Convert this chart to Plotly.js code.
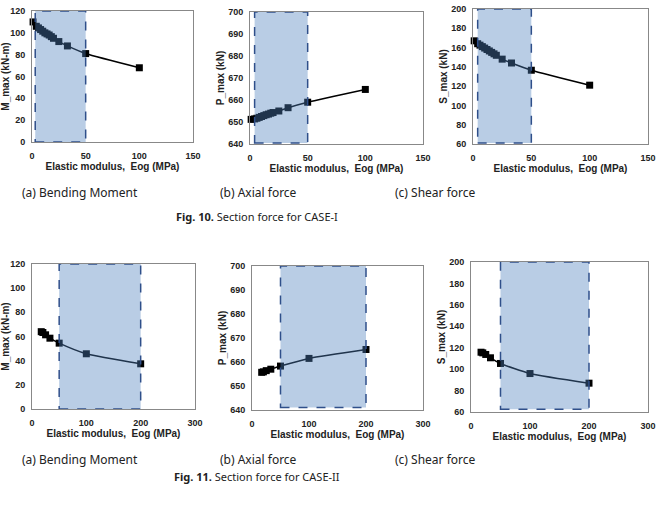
<!DOCTYPE html>
<html>
<head>
<meta charset="utf-8">
<script src="https://cdn.plot.ly/plotly-3.0.1.min.js"></script>
<style>html,body{margin:0;padding:0;background:#fff;}#chart{width:658px;height:505px;}</style>
</head>
<body>
<div id="chart"></div>
<script>
// CASE-I data
const eog1 = [1, 4, 6, 8, 10, 12, 14, 16, 18, 20, 25, 33, 50, 100];
const mMax1 = [110, 106, 104.5, 103, 101.5, 100, 99, 98, 96.5, 95, 92, 88, 81, 68];
const pMax1 = [651.2, 651.4, 651.7, 652.1, 652.5, 652.9, 653.3, 653.6, 654, 654.3, 655, 656.5, 659, 664.8];
const sMax1 = [167, 164, 162.5, 161, 159.5, 158, 156.5, 155, 153.5, 152, 148, 144, 136.5, 121];
// CASE-II data
const eog2 = [17, 20, 25, 33, 50, 100, 200];
const mMax2 = [64, 63.3, 61.4, 58.6, 54.5, 45.7, 37.4];
const pMax2 = [655.7, 655.9, 656.4, 657.0, 658.3, 661.5, 665.2];
const sMax2 = [115.8, 115.2, 113.7, 110.6, 105.3, 95.9, 86.9];
// shaded ranges [x0, x1, y0, y1]
const shade1M = [3, 50, 0, 120];
const shade1P = [4, 50, 640.5, 700];
const shade1S = [4, 50, 61, 200];
const shade2M = [50, 200, 0, 120];
const shade2P = [50, 200, 641, 700];
const shade2S = [50, 200, 62.5, 200];
// axes
const xRange1 = [0, 150];
const xRange2 = [0, 300];
const yRangeM = [0, 120];
const yRangeP = [640, 700];
const yRangeS = [60, 200];
const yTitleM = 'M_max (kN-m)';
const yTitleP = 'P_max (kN)';
const yTitleS = 'S_max (kN)';
const xTitle = 'Elastic modulus,  Eog (MPa)';
const subCaptions = ['(a) Bending Moment', '(b) Axial force', '(c) Shear force'];
const figCaptions = ['<b>Fig. 10.</b> Section force for CASE-I', '<b>Fig. 11.</b> Section force for CASE-II'];

const W = 658, H = 505;
const px = v => v / W, py = v => 1 - v / H;

const panels = [
  {x: eog1, y: mMax1, xr: xRange1, yr: yRangeM, yt: yTitleM, sh: shade1M, dx: [32, 193], dy: [11, 142], dt: 20},
  {x: eog1, y: pMax1, xr: xRange1, yr: yRangeP, yt: yTitleP, sh: shade1P, dx: [250, 423], dy: [12, 144], dt: 10},
  {x: eog1, y: sMax1, xr: xRange1, yr: yRangeS, yt: yTitleS, sh: shade1S, dx: [473, 648], dy: [9, 144], dt: 20},
  {x: eog2, y: mMax2, xr: xRange2, yr: yRangeM, yt: yTitleM, sh: shade2M, dx: [32, 195], dy: [264, 409], dt: 20},
  {x: eog2, y: pMax2, xr: xRange2, yr: yRangeP, yt: yTitleP, sh: shade2P, dx: [252, 423], dy: [266, 410], dt: 10},
  {x: eog2, y: sMax2, xr: xRange2, yr: yRangeS, yt: yTitleS, sh: shade2S, dx: [471, 648], dy: [262, 412], dt: 20}
];

const tickFont = {family: 'Liberation Sans, Arial, sans-serif', size: 9, color: '#222', weight: 'bold'};
const titleFont = {family: 'Liberation Sans, Arial, sans-serif', size: 10, color: '#222', weight: 'bold'};

const data = [];
const layout = {
  width: W, height: H,
  margin: {l: 0, r: 0, t: 0, b: 0},
  paper_bgcolor: '#fff', plot_bgcolor: '#fff',
  showlegend: false,
  shapes: [], annotations: []
};

panels.forEach((p, i) => {
  const n = i === 0 ? '' : String(i + 1);
  data.push({
    type: 'scatter', mode: 'lines+markers',
    x: p.x, y: p.y,
    xaxis: 'x' + n, yaxis: 'y' + n,
    line: {color: '#000', width: 1.5, shape: 'spline', smoothing: 0.6},
    marker: {symbol: 'square', size: 7, color: '#000'},
    cliponaxis: false
  });
  layout['xaxis' + n] = {
    domain: [px(p.dx[0]), px(p.dx[1])],
    anchor: 'y' + n,
    range: p.xr, dtick: p.xr[1] / 3, tick0: 0,
    showgrid: false, zeroline: false,
    showline: true, mirror: true, linecolor: '#888', linewidth: 1,
    ticks: 'outside', ticklen: 5, tickcolor: 'rgba(0,0,0,0)',
    tickfont: tickFont,
    title: {text: xTitle, font: titleFont, standoff: 2}
  };
  layout['yaxis' + n] = {
    domain: [py(p.dy[1]), py(p.dy[0])],
    anchor: 'x' + n,
    range: p.yr, dtick: p.dt,
    showgrid: false, zeroline: false,
    showline: true, mirror: true, linecolor: '#888', linewidth: 1,
    ticks: 'outside', ticklen: 4, tickcolor: 'rgba(0,0,0,0)',
    tickfont: tickFont,
    title: {text: p.yt, font: titleFont, standoff: 1}
  };
  layout.shapes.push({
    type: 'rect', xref: 'x' + n, yref: 'y' + n,
    x0: p.sh[0], x1: p.sh[1], y0: p.sh[2], y1: p.sh[3],
    fillcolor: 'rgba(79,129,189,0.4)',
    line: {color: '#2f4f8a', width: 1.5, dash: 'dash'},
    layer: 'above'
  });
});

const capFont = {family: 'Noto Sans, sans-serif', size: 12, color: '#222'};
const capX = [80, 258, 435];
[192, 459].forEach(yy => {
  subCaptions.forEach((t, k) => {
    layout.annotations.push({
      text: t, xref: 'paper', yref: 'paper', x: px(capX[k]), y: py(yy),
      xanchor: 'center', yanchor: 'middle', showarrow: false, font: capFont
    });
  });
});
[217, 476].forEach((yy, k) => {
  layout.annotations.push({
    text: figCaptions[k], xref: 'paper', yref: 'paper', x: px(257), y: py(yy),
    xanchor: 'center', yanchor: 'middle', showarrow: false,
    font: {family: 'Noto Sans, sans-serif', size: 11, color: '#222'}
  });
});

Plotly.newPlot('chart', data, layout, {staticPlot: true});
</script>
</body>
</html>
